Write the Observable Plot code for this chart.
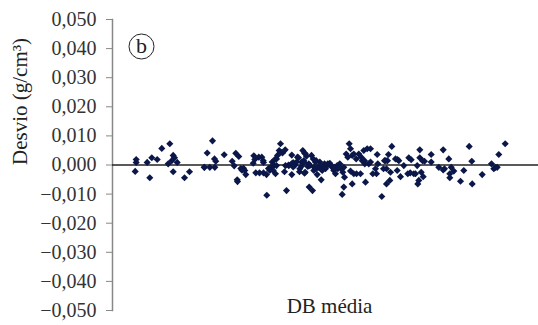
<!DOCTYPE html>
<html>
<head>
<meta charset="utf-8">
<script src="https://cdn.jsdelivr.net/npm/d3@7"></script>
<script src="https://cdn.jsdelivr.net/npm/@observablehq/plot@0.6"></script>
<style>
  html, body { margin: 0; padding: 0; background: #fff; }
  #chart svg { display: block; }
</style>
</head>
<body>
<div id="chart"></div>
<script>
// DB média (arbitrary position units, no ticks shown) and deviation (g/cm³)
const dbMedia = [
  135.7,135.7,134.7,146.7,149.3,151.3,156.7,161.3,169.3,167.7,172.7,174,171.3,176.7,172.7,184,189,
  203.7,206.7,212,209.3,214.3,214,215.3,223.7,231.7,235.3,238.3,233.7,236.7,237,240.3,243,244.3,245.3,241.5,204,
  253.3,252.7,255.3,258.3,261.3,263,259,263,266.3,266,269.3,270.3,273.3,275,276,277,278.7,280,282,284.7,284,286,
  288,291.3,291.3,292.7,294.7,298,299,301,302.3,304,306,303.7,307.3,304,308.7,312,313.3,315,316.7,
  288.3,291,292.7,296,297,299.3,301,309.3,311,312.7,313.7,
  254.3,262.7,271.7,272.7,274.3,276,280.3,285,268,
  305,303.3,304.7,308.3,
  318.3,319.3,320.7,321.7,323.3,325,326.7,329.3,331.7,333.3,335,336.7,339.3,341.7,343.3,344,343.3,345.7,347.3,
  348.7,350,351.7,353.3,351.7,353.3,356,358.3,360,360.7,361.7,363.3,364.3,365,366.7,368.3,370,375,376,376.7,377.3,
  381.3,384,386,387,386,388,389.3,390,391.3,395,396.7,398.3,400,403.3,407.3,408.3,410.7,413.3,415,416.7,417.3,
  418.3,419.3,419.3,420.7,422.7,424,430.7,430.7,438.3,442.7,442.7,448.3,449.3,449.3,450.7,453.3,460,463.3,468.7,
  471.3,471.7,481.7,491,493.3,495,496.7,498.3,504.7,
  315.7,319,315.7,321,324,327.3,330.7,334,337.3,340.7,342.3,355.7,364,370,372.3,350,
  397,385.3,383,409.7,422,444
];
const desvio = [
  0.0019,0.0009,-0.0022,0.0009,-0.0044,0.0025,0.0019,0.0057,0.0073,0.0004,0.0033,0.0025,0.0015,0.0009,-0.0023,-0.0044,-0.0023,
  -0.0008,0.0041,0.0083,-0.0008,-0.0008,0.0021,0.0013,0.0035,0.0013,0.0040,0.0029,-0.0003,-0.0051,-0.0057,-0.0012,-0.0011,-0.0019,-0.0033,-0.0018,-0.0008,
  0.0032,0.0006,-0.0027,0.0027,0.0027,0.0009,-0.0027,-0.0027,-0.0104,-0.0033,-0.0019,-0.0008,-0.0002,-0.0030,0.0021,0.0033,0.0050,0.0073,0.0041,0.0052,-0.0023,-0.0088,
  0.0000,0.0034,-0.0033,0.0008,0.0000,0.0025,-0.0023,-0.0004,0.0050,0.0041,0.0030,0.0009,-0.0005,-0.0028,-0.0076,-0.0088,-0.0019,0.0010,-0.0033,
  -0.0002,0.0004,-0.0007,0.0010,0.0027,-0.0013,0.0010,-0.0002,0.0033,0.0021,-0.0008,
  0.0019,0.0015,0.0010,-0.0019,0.0019,-0.0002,0.0044,-0.0002,-0.0012,
  0.0038,0.0015,-0.0025,0.0004,
  -0.0008,0.0010,-0.0051,-0.0019,-0.0008,-0.0013,-0.0002,0.0006,-0.0008,-0.0019,-0.0030,-0.0002,0.0004,-0.0101,-0.0076,-0.0042,-0.0008,0.0038,0.0027,
  0.0073,0.0056,0.0033,0.0038,-0.0065,-0.0030,-0.0030,0.0038,-0.0030,0.0027,0.0015,0.0050,0.0004,-0.0059,0.0056,0.0004,0.0056,-0.0013,-0.0030,0.0036,0.0004,
  -0.0108,0.0015,-0.0013,0.0015,-0.0065,0.0036,-0.0053,-0.0025,0.0064,0.0021,-0.0019,0.0015,-0.0040,-0.0002,-0.0030,0.0025,0.0018,-0.0030,-0.0030,-0.0002,-0.0065,
  -0.0053,0.0025,0.0052,-0.0025,-0.0040,0.0013,0.0036,0.0010,-0.0008,0.0052,-0.0017,0.0021,-0.0030,-0.0044,-0.0008,-0.0021,-0.0056,-0.0019,0.0064,
  0.0013,-0.0065,-0.0033,0.0004,-0.0013,-0.0008,-0.0008,0.0036,0.0073,
  0.0015,-0.0002,-0.0013,-0.0015,0.0004,0.0004,-0.0002,-0.0008,-0.0013,-0.0013,-0.0025,0.0021,0.0015,0.0010,-0.0030,-0.0021,
  0.0019,0.0015,-0.0013,-0.0027,0.0015,-0.0013
];
const yTicks = [-0.05, -0.04, -0.03, -0.02, -0.01, 0, 0.01, 0.02, 0.03, 0.04, 0.05];
const yLabel = "Desvio (g/cm³)";
const xLabel = "DB média";
const panelTag = ["b"];

const pts = dbMedia.map((x, i) => ({x, y: desvio[i]}));
const fmt = d => (d < 0 ? "\u2212" : "") + Math.abs(d).toFixed(3).replace(".", ",");
const serif = "Liberation Serif";

const chart = Plot.plot({
  width: 538,
  height: 325,
  marginLeft: 112,
  marginRight: 0,
  marginTop: 19,
  marginBottom: 15,
  style: {fontFamily: serif, fontSize: "20px", color: "#333", background: "#fff"},
  x: {domain: [112, 538], axis: null},
  y: {domain: [-0.05, 0.05], axis: null},
  marks: [
    Plot.axisY({ticks: yTicks, tickFormat: fmt, tickSize: 6, tickPadding: 10, label: null, stroke: "#888", fill: "#333", fontSize: 20, fontFamily: serif}),
    Plot.frame({anchor: "left", stroke: "#888", strokeWidth: 1.5}),
    Plot.ruleY([0], {stroke: "#222", strokeWidth: 1.5}),
    Plot.dot(pts, {x: "x", y: "y", symbol: "diamond2", r: 3.2, fill: "#0b1748", stroke: "none"}),
    Plot.dot(panelTag, {frameAnchor: "top-left", dx: 29, dy: 27, r: 12.5, stroke: "#222", strokeWidth: 1, fill: "none"}),
    Plot.text(panelTag, {frameAnchor: "top-left", dx: 29, dy: 26, textAnchor: "middle", lineAnchor: "middle", text: d => d, fontSize: 22, fontFamily: serif, fill: "#222"}),
    Plot.text([xLabel], {frameAnchor: "bottom", dx: 4, dy: 2, text: d => d, fontSize: 21, fontFamily: serif, fill: "#222"}),
    Plot.text([yLabel], {frameAnchor: "left", dx: -92, text: d => d, rotate: -90, fontSize: 21, fontFamily: serif, fill: "#222"})
  ]
});
document.getElementById("chart").appendChild(chart);
</script>
</body>
</html>
